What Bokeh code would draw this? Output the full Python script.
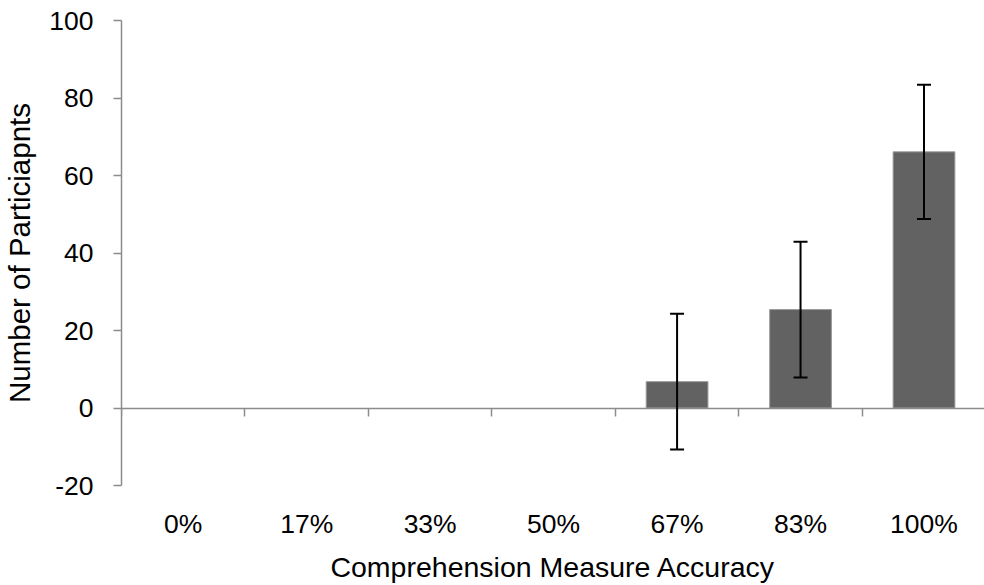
from bokeh.plotting import figure
from bokeh.models import (ColumnDataSource, Range1d, FixedTicker, LinearAxis,
                          Whisker, TeeHead)
from bokeh.embed import file_html
from bokeh.resources import INLINE

# ---- data ----
categories = ["0%", "17%", "33%", "50%", "67%", "83%", "100%"]
participants = [0, 0, 0, 0, 6.8, 25.4, 66.1]
errors = [0, 0, 0, 0, 17.5, 17.5, 17.3]
y_ticks = [-20, 0, 20, 40, 60, 80, 100]

n = len(categories)
centers = [i + 0.5 for i in range(n)]
boundaries = list(range(n + 1))

FONT = "Liberation Sans"
AXIS_GRAY = "#8c8c8c"

p = figure(width=984, height=585, output_backend="svg", toolbar_location=None,
           x_range=Range1d(0, 6.99), y_range=Range1d(-20, 100),
           x_axis_location=None, y_axis_location=None,
           min_border_left=121, min_border_right=0, min_border_top=20,
           min_border_bottom=100)
p.outline_line_color = None
p.xgrid.visible = False
p.ygrid.visible = False
p.background_fill_color = "white"
p.border_fill_color = "white"

# bars (only categories with participants)
idx = [i for i in range(n) if participants[i] > 0]
bar_src = ColumnDataSource(dict(x=[centers[i] for i in idx],
                                top=[participants[i] for i in idx]))
p.vbar(x="x", top="top", bottom=0, width=0.5, source=bar_src,
       fill_color="#626262", line_color="#9a9a9a", line_width=1)

# error bars (drawn on top of the bars)
err_src = ColumnDataSource(dict(
    x=[centers[i] for i in idx],
    upper=[participants[i] + errors[i] for i in idx],
    lower=[participants[i] - errors[i] for i in idx]))
w = Whisker(base="x", upper="upper", lower="lower", source=err_src,
            line_color="black", line_width=2, level="overlay",
            upper_head=TeeHead(size=14, line_color="black", line_width=2),
            lower_head=TeeHead(size=14, line_color="black", line_width=2))
p.add_layout(w)

# y axis
yaxis = LinearAxis(ticker=FixedTicker(ticks=y_ticks))
yaxis.major_label_overrides = {t: str(t) for t in y_ticks}
yaxis.axis_label = "Number of Particiapnts"
yaxis.axis_label_text_font = FONT
yaxis.axis_label_text_font_size = "29.5px"
yaxis.axis_label_text_font_style = "normal"
yaxis.axis_label_text_color = "black"
yaxis.axis_label_standoff = 10
yaxis.major_label_text_font = FONT
yaxis.major_label_text_font_size = "26.5px"
yaxis.major_label_text_color = "black"
yaxis.major_label_standoff = 20
yaxis.axis_line_color = AXIS_GRAY
yaxis.axis_line_width = 1.5
yaxis.major_tick_line_color = AXIS_GRAY
yaxis.major_tick_line_width = 1.5
yaxis.major_tick_out = 8
yaxis.major_tick_in = 0
yaxis.minor_tick_line_color = None
p.add_layout(yaxis, "left")

# category label axis at bottom (labels only)
xlab = LinearAxis(ticker=FixedTicker(ticks=centers))
xlab.major_label_overrides = {c: lab for c, lab in zip(centers, categories)}
xlab.axis_label = "Comprehension Measure Accuracy"
xlab.axis_label_text_font = FONT
xlab.axis_label_text_font_size = "28.5px"
xlab.axis_label_text_font_style = "normal"
xlab.axis_label_text_color = "black"
xlab.axis_label_standoff = 9
xlab.major_label_text_font = FONT
xlab.major_label_text_font_size = "26.5px"
xlab.major_label_text_color = "black"
xlab.major_label_standoff = 23
xlab.axis_line_color = None
xlab.major_tick_line_color = None
xlab.minor_tick_line_color = None
xlab.major_tick_out = 0
xlab.major_tick_in = 0
p.add_layout(xlab, "below")

# zero axis line with tick marks at category boundaries
zaxis = LinearAxis(ticker=FixedTicker(ticks=boundaries), fixed_location=0)
zaxis.major_label_text_font_size = "0px"
zaxis.major_label_standoff = 0
zaxis.major_label_overrides = {b: "" for b in boundaries}
zaxis.axis_line_color = AXIS_GRAY
zaxis.axis_line_width = 1.5
zaxis.major_tick_line_color = AXIS_GRAY
zaxis.major_tick_line_width = 1.5
zaxis.major_tick_out = 0
zaxis.major_tick_in = 8
zaxis.minor_tick_line_color = None
p.add_layout(zaxis, "above")

open("out.html", "w").write(file_html(p, INLINE))
